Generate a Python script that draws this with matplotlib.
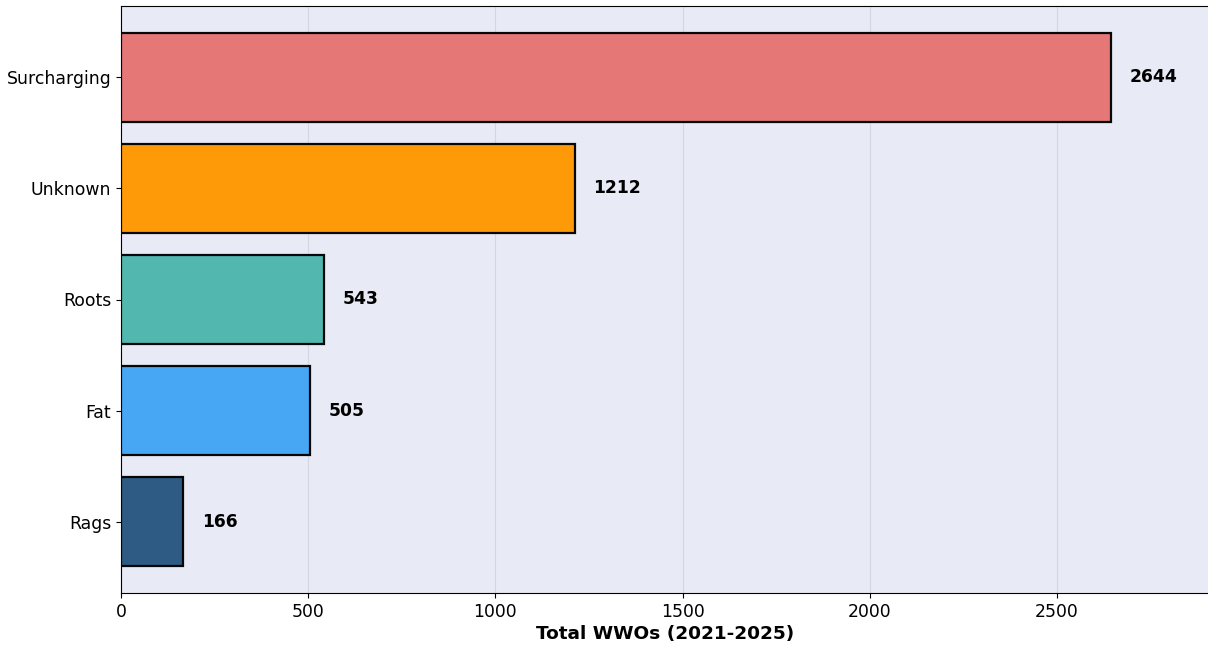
import matplotlib
matplotlib.use("Agg")
import matplotlib.pyplot as plt

categories = ["Surcharging", "Unknown", "Roots", "Fat", "Rags"]
values = [2644, 1212, 543, 505, 166]
colors = ["#E57373", "#FF9800", "#4DB6AC", "#42A5F5", "#275680"]
xticks = [0, 500, 1000, 1500, 2000, 2500]

W, H = 1208, 648
fig = plt.figure(figsize=(W / 100, H / 100), dpi=100)
ax = fig.add_axes([121 / W, (H - 593) / H, (1210 - 121) / W, (593 - 6) / H])
ax.set_facecolor("#E8EAF6")

ypos = list(range(len(categories)))[::-1]
ax.barh(ypos, values, height=0.8, color=colors, edgecolor="black", linewidth=1.6, alpha=0.97, zorder=3)
for y, v in zip(ypos, values):
    ax.text(v + 50, y, str(v), va="center", ha="left", fontsize=12.3, fontweight="bold", zorder=4)

ax.set_yticks(ypos)
ax.set_yticklabels(categories, fontsize=12.4)
ax.set_xticks(xticks)
ax.tick_params(axis="x", labelsize=12.4)
ax.set_xlim(0, max(values) * 1.1)
ax.set_xlabel("Total WWOs (2021-2025)", fontsize=13.3, fontweight="bold", labelpad=3)
ax.grid(axis="x", color="#C8CAD6", alpha=0.6, linewidth=0.8, zorder=0)
ax.set_axisbelow(True)

fig.savefig("out.png", dpi=100)
